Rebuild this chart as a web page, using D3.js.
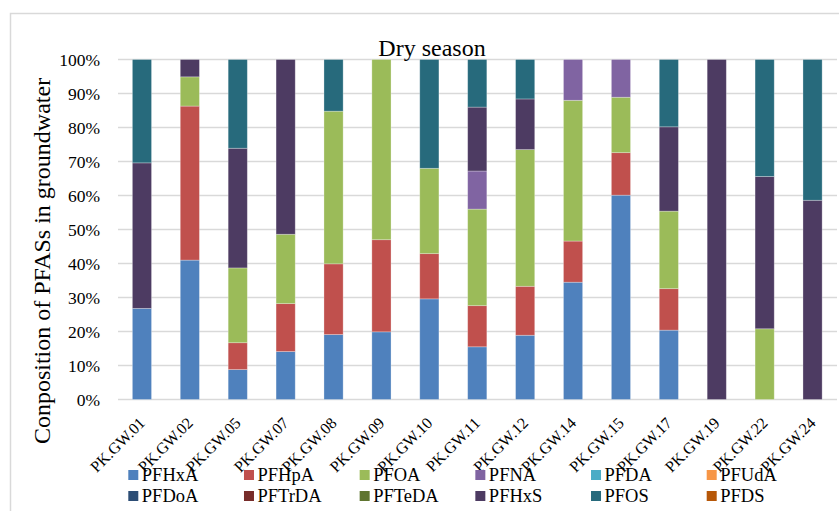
<!DOCTYPE html>
<html>
<head>
<meta charset="utf-8">
<script src="https://cdn.jsdelivr.net/npm/d3@7"></script>
<style>
  html, body { margin: 0; padding: 0; background: #fff; }
  svg { display: block; font-family: "Liberation Serif", "Times New Roman", serif; }
</style>
</head>
<body>
<svg id="chart" width="839" height="511"></svg>
<script>
const categories = ["PK.GW.01","PK.GW.02","PK.GW.05","PK.GW.07","PK.GW.08","PK.GW.09","PK.GW.10","PK.GW.11","PK.GW.12","PK.GW.14","PK.GW.15","PK.GW.17","PK.GW.19","PK.GW.22","PK.GW.24"];

const PFHxA  = [26.8, 41.0, 8.8, 14.1, 19.1, 19.9, 29.6, 15.5, 18.9, 34.5, 60.1, 20.4, 0, 0, 0];
const PFHpA  = [0, 45.3, 7.9, 14.1, 20.8, 27.1, 13.3, 12.1, 14.4, 12.1, 12.5, 12.2, 0, 0, 0];
const PFOA   = [0, 8.6, 22.0, 20.4, 44.9, 53.0, 25.1, 28.4, 40.2, 41.4, 16.3, 22.8, 0, 20.8, 0];
const PFNA   = [0, 0, 0, 0, 0, 0, 0, 11.2, 0, 12.0, 11.1, 0, 0, 0, 0];
const PFDA   = [0, 0, 0, 0, 0, 0, 0, 0, 0, 0, 0, 0, 0, 0, 0];
const PFUdA  = [0, 0, 0, 0, 0, 0, 0, 0, 0, 0, 0, 0, 0, 0, 0];
const PFDoA  = [0, 0, 0, 0, 0, 0, 0, 0, 0, 0, 0, 0, 0, 0, 0];
const PFTrDA = [0, 0, 0, 0, 0, 0, 0, 0, 0, 0, 0, 0, 0, 0, 0];
const PFTeDA = [0, 0, 0, 0, 0, 0, 0, 0, 0, 0, 0, 0, 0, 0, 0];
const PFHxS  = [42.8, 5.1, 35.2, 51.4, 0, 0, 0, 18.8, 14.9, 0, 0, 24.8, 100, 44.8, 58.6];
const PFOS   = [30.4, 0, 26.1, 0, 15.2, 0, 32.0, 14.0, 11.6, 0, 0, 19.8, 0, 34.4, 41.4];
const PFDS   = [0, 0, 0, 0, 0, 0, 0, 0, 0, 0, 0, 0, 0, 0, 0];

const seriesNames = ["PFHxA","PFHpA","PFOA","PFNA","PFDA","PFUdA","PFDoA","PFTrDA","PFTeDA","PFHxS","PFOS","PFDS"];
const seriesValues = [PFHxA, PFHpA, PFOA, PFNA, PFDA, PFUdA, PFDoA, PFTrDA, PFTeDA, PFHxS, PFOS, PFDS];
const seriesColors = ["#4F81BD","#C0504D","#9BBB59","#8064A2","#4BACC6","#F79646","#2C4D75","#772C2A","#5F7530","#4D3B62","#276A7C","#B65708"];
const yTicks = [0, 0.1, 0.2, 0.3, 0.4, 0.5, 0.6, 0.7, 0.8, 0.9, 1.0];
const titleText = "Dry season";
const yTitle = "Conposition of PFASs in groundwater";

const rows = categories.map((c, i) => {
  const r = { cat: c };
  seriesNames.forEach((s, k) => { r[s] = seriesValues[k][i] / 100; });
  return r;
});

const svg = d3.select("#chart");

// chart frame
svg.append("rect").attr("x", 10.5).attr("y", 13.5).attr("width", 900).attr("height", 600)
  .attr("fill", "none").attr("stroke", "#D9D9D9").attr("stroke-width", 1.5);

const x = d3.scaleBand().domain(categories).range([118, 836.5]).paddingInner(0.6).paddingOuter(0.3);
const y = d3.scaleLinear().domain([0, 1]).range([399.5, 59.5]);

// gridlines
svg.append("g").selectAll("line").data(yTicks).join("line")
  .attr("x1", 118).attr("x2", 837).attr("y1", d => y(d)).attr("y2", d => y(d))
  .attr("stroke", "#D9D9D9").attr("stroke-width", 1.5);

// y axis labels
const yAxis = d3.axisLeft(y).tickValues(yTicks).tickFormat(d3.format(".0%")).tickSize(0).tickPadding(0);
const gy = svg.append("g").attr("transform", "translate(100,0)").call(yAxis);
gy.select(".domain").remove();
gy.selectAll("text").attr("font-family", "Liberation Serif").attr("font-size", 17.5).attr("fill", "#000");

// stacked bars
const stack = d3.stack().keys(seriesNames);
const stacked = stack(rows);
const color = d3.scaleOrdinal().domain(seriesNames).range(seriesColors);

svg.append("g").selectAll("g").data(stacked).join("g")
  .attr("fill", d => color(d.key))
  .selectAll("rect").data(d => d.filter(p => p[1] - p[0] > 0)).join("rect")
  .attr("x", d => x(d.data.cat))
  .attr("width", x.bandwidth())
  .attr("y", d => y(d[1]))
  .attr("height", d => y(d[0]) - y(d[1]))
  .attr("stroke", "#ffffff").attr("stroke-opacity", 0.35).attr("stroke-width", 0.8);

// x axis labels
const xAxis = d3.axisBottom(x).tickSize(0).tickPadding(0);
const gx = svg.append("g").attr("transform", "translate(0,0)").call(xAxis);
gx.select(".domain").remove();
gx.selectAll(".tick").attr("transform", d => `translate(${x(d) + x.bandwidth() / 2 + 4},424)`);
gx.selectAll("text")
  .attr("font-family", "Liberation Serif").attr("font-size", 16).attr("fill", "#000")
  .attr("text-anchor", "end").attr("dy", 0).attr("y", 0).attr("x", 0)
  .attr("transform", "rotate(-45)");

// title
svg.append("text").attr("x", 432).attr("y", 56).attr("text-anchor", "middle")
  .attr("font-size", 24).attr("fill", "#000").text(titleText);

// y title
svg.append("text").attr("transform", "translate(50,261) rotate(-90)")
  .attr("text-anchor", "middle").attr("font-size", 24).attr("fill", "#000").text(yTitle);

// legend
const legend = svg.append("g");
const colX = d3.scalePoint().domain(d3.range(6)).range([128.3, 706.7]);
const rowY = [475, 496];
const items = legend.selectAll("g").data(seriesNames).join("g")
  .attr("transform", (d, i) => `translate(${colX(i % 6)},${rowY[Math.floor(i / 6)]})`);
items.append("rect").attr("x", 0).attr("y", -5).attr("width", 10).attr("height", 10)
  .attr("fill", d => color(d));
items.append("text").attr("x", 13.5).attr("y", 0).attr("dy", "0.35em")
  .attr("font-size", 18.5).attr("fill", "#000").text(d => d);
</script>
</body>
</html>
